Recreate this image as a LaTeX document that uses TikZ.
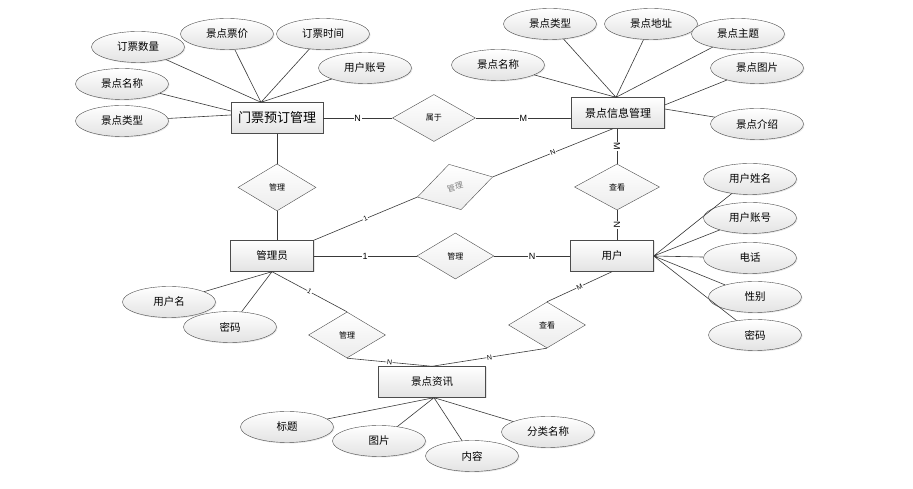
\documentclass[tikz,border=0pt]{standalone}
\usepackage{fontspec}
\setmainfont{Noto Sans CJK SC}
\setsansfont{Liberation Sans}
\usetikzlibrary{shapes.geometric,positioning,calc,shadows}

\begin{document}
\begin{tikzpicture}[x=1pt,y=1pt,font=\fontsize{10.5}{12}\selectfont,
ent/.style={draw=gray!60!black,top color=white,bottom color=gray!22,minimum width=83pt,minimum height=31pt,inner sep=0pt,drop shadow={opacity=0.2,shadow xshift=1pt,shadow yshift=-1pt}},
rel/.style={diamond,draw=gray!60!black,top color=white,bottom color=gray!15,minimum width=77pt,minimum height=46pt,inner sep=0pt,font=\fontsize{8}{9}\selectfont},
attr/.style={ellipse,draw=gray!60!black,top color=white,bottom color=gray!22,minimum width=93pt,minimum height=31pt,inner sep=0pt,drop shadow={opacity=0.2,shadow xshift=1pt,shadow yshift=-1pt}},
lnk/.style={draw=gray!45!black,line width=0.6pt},
card/.style={fill=white,inner sep=0.6pt,font=\sffamily\fontsize{9}{9}\selectfont},
cardsm/.style={card,font=\sffamily\fontsize{7}{7}\selectfont}]
\useasboundingbox (0,0) rectangle (913,489);
\node[ent,minimum width=92pt,font=\fontsize{13}{14}\selectfont] (ticket) at (277,371) {门票预订管理};
\node[ent,minimum width=93pt,font=\fontsize{11}{12}\selectfont] (scenic) at (618,376) {景点信息管理};
\node[ent] (admin) at (272,233) {管理员};
\node[ent] (user) at (612,233) {用户};
\node[ent,minimum width=107pt] (news) at (432,107) {景点资讯};
\node[rel,minimum width=83pt,minimum height=47pt] (belong) [right=69pt of ticket] {属于};
\node[rel,minimum width=78pt,minimum height=47pt] (mgr1) [below=30pt of ticket] {管理};
\node[rel,minimum width=85pt] (view1) at (617,302) {查看};
\node[rel] (mgr2) [right=103pt of admin] {管理};
\node[rel,minimum width=78pt,minimum height=47pt,rotate=15,text=gray] (tilt) at (455,302) {管理};
\node[rel] (mgr3) at (347,154) {管理};
\node[rel] (view2) at (547,164) {查看};
\node[attr] (tnum) at (138,442) {订票数量};
\node[attr] (tprice) at (227,455) {景点票价};
\node[attr] (ttime) at (323,455) {订票时间};
\node[attr] (tuser) at (365,421) {用户账号};
\node[attr] (tname) at (122,405) {景点名称};
\node[attr] (ttype) at (122,368) {景点类型};
\node[attr] (stype) at (550,465) {景点类型};
\node[attr] (saddr) at (651,465) {景点地址};
\node[attr] (stheme) at (738,455) {景点主题};
\node[attr] (sname) at (498,424) {景点名称};
\node[attr] (spic) at (757,421) {景点图片};
\node[attr] (sintro) at (757,365) {景点介绍};
\node[attr] (uname) at (750,310) {用户姓名};
\node[attr] (uacct) at (750,271) {用户账号};
\node[attr] (uphone) at (750,231) {电话};
\node[attr] (usex) at (755,192) {性别};
\node[attr] (upwd) at (755,154) {密码};
\node[attr] (aname) at (169,187) {用户名};
\node[attr] (apwd) at (230,162) {密码};
\node[attr] (ntitle) at (287,62) {标题};
\node[attr] (npic) at (379,48) {图片};
\node[attr] (ntext) at (472,33) {内容};
\node[attr] (ncat) at (548,57) {分类名称};
\coordinate (tk) at ([xshift=-16pt]ticket.north);
\coordinate (sk) at ([xshift=-2pt]scenic.north);
\coordinate (nk) at ([xshift=2pt]news.south);
\draw[lnk] (tk) -- (tnum) (tk) -- (tprice) (tk) -- (ttime) (tk) -- (tuser);
\draw[lnk] ([yshift=7pt]ticket.west) -- (tname) ([yshift=3pt]ticket.west) -- (ttype);
\draw[lnk] (sk) -- (stype) (sk) -- (saddr) (sk) -- (stheme) (sk) -- (sname);
\draw[lnk] ([yshift=8pt]scenic.east) -- (spic) ([yshift=4pt]scenic.east) -- (sintro);
\draw[lnk] (user.east) -- (uname) (user.east) -- (uacct) (user.east) -- (uphone) (user.east) -- (usex) (user.east) -- (upwd);
\draw[lnk] (admin.south) -- (aname) (admin.south) -- (apwd);
\draw[lnk] (nk) -- (ntitle) (nk) -- (npic) (nk) -- (ntext) (nk) -- (ncat);
\draw[lnk] (ticket.east) -- node[card]{N} (belong.west);
\draw[lnk] (belong.east) -- node[card]{M} (belong.east -| scenic.west);
\draw[lnk] (ticket.south) -- (mgr1.north);
\draw[lnk] (mgr1.south) -- (mgr1.south |- admin.north);
\draw[lnk] (view1.north |- scenic.south) -- node[card,sloped]{M} (view1.north);
\draw[lnk] (view1.south) -- node[card,sloped]{N} (view1.south |- user.north);
\draw[lnk] (admin.east) -- node[card]{1} (mgr2.west);
\draw[lnk] (mgr2.east) -- node[card]{N} (user.west);
\draw[lnk] (admin.north east) -- node[cardsm,sloped]{1} (tilt.west);
\draw[lnk] (tilt.east) -- node[cardsm,sloped]{N} ([xshift=-5pt]scenic.south);
\draw[lnk] (admin.south) -- node[cardsm,sloped]{1} (mgr3.north);
\draw[lnk] (mgr3.south) -- node[cardsm,sloped]{N} (news.north);
\draw[lnk] (user.south) -- node[cardsm,sloped]{M} (view2.north);
\draw[lnk] (view2.south) -- node[cardsm,sloped]{N} (news.north);
\end{tikzpicture}
\end{document}
